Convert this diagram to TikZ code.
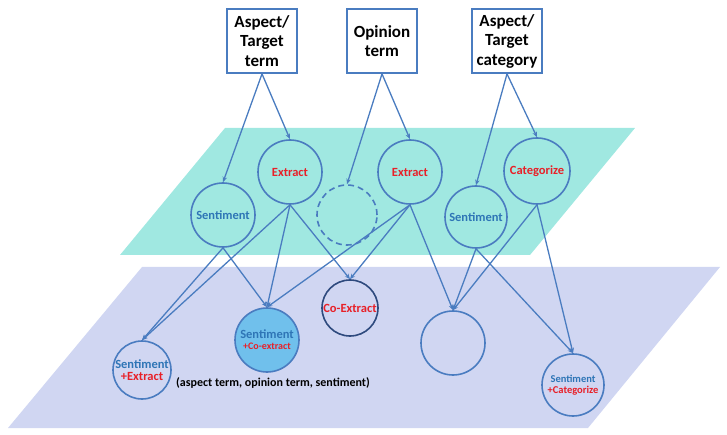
\documentclass[tikz,border=0pt]{standalone}
\usepackage{fontspec}
\setmainfont{Carlito}
\usetikzlibrary{arrows.meta}
\definecolor{teal1}{RGB}{160,232,225}
\definecolor{lav}{RGB}{208,214,242}
\definecolor{edgeblue}{RGB}{74,124,192}
\definecolor{darkblue}{RGB}{46,74,126}
\definecolor{fillblue}{RGB}{112,192,236}
\definecolor{sentblue}{RGB}{46,117,182}
\definecolor{redtxt}{RGB}{232,32,40}
\tikzset{
  topbox/.style={draw=edgeblue, line width=1.8pt, fill=white, minimum width=70pt, minimum height=64pt, inner sep=0pt, align=center, font=\bfseries\fontsize{17}{19.5}\selectfont},
  cnode/.style={circle, draw=edgeblue, line width=1.6pt, inner sep=0pt, align=center, font=\bfseries\fontsize{12.5}{13}\selectfont},
  link/.style={draw=edgeblue, line width=1.3pt, -{Stealth[length=5.5pt,width=4.5pt]}}
}
\newcommand{\sent}[1]{{\color{sentblue}#1}}
\newcommand{\redt}[1]{{\color{redtxt}#1}}
\begin{document}
\begin{tikzpicture}[x=1pt,y=-1pt]
\useasboundingbox (0,0) rectangle (727,435);
% planes
\fill[teal1] (225,128) -- (635,128) -- (530,255) -- (120,255) -- cycle;
\fill[lav] (142,267) -- (720,267) -- (588,428) -- (8,428) -- cycle;
% top boxes
\node[topbox] (b1) at (262,41) {Aspect/\\Target\\term};
\node[topbox] (b2) at (382,41) {Opinion\\term};
\node[topbox] (b3) at (507,41) {Aspect/\\Target\\category};
% upper circles
\node[cnode, minimum size=64pt] (s1) at (223,215) {\sent{Sentiment}};
\node[cnode, minimum size=64pt] (e1) at (290,172) {\redt{Extract}};
\node[cnode, minimum size=60pt, dash pattern=on 6pt off 4pt] (d1) at (347,215) {};
\node[cnode, minimum size=64pt] (e2) at (410,172) {\redt{Extract}};
\node[cnode, minimum size=62pt] (s2) at (476,217) {\sent{Sentiment}};
\node[cnode, minimum size=66pt] (c1) at (537,171) {\redt{Categorize}};
% lower circles
\node[cnode, minimum size=58pt] (se) at (142,370) {\sent{Sentiment}\\[-1pt]\redt{+Extract}};
\node[cnode, minimum size=64pt, fill=fillblue] (sc) at (267,340) {\sent{Sentiment}\\[-2pt]{\fontsize{10}{11}\selectfont\redt{+Co-extract}}};
\node[cnode, minimum size=56pt, draw=darkblue] (ce) at (350,308) {\redt{Co-Extract}};
\node[cnode, minimum size=64pt] (em) at (453,343) {};
\node[cnode, minimum size=62pt, font=\bfseries\fontsize{10.5}{11.5}\selectfont] (sg) at (573,385) {\sent{Sentiment}\\\redt{+Categorize}};
\node[anchor=west, font=\bfseries\fontsize{12}{13}\selectfont, inner sep=0pt] (tx) at (176,383) {(aspect term, opinion term, sentiment)};
% top arrows
\draw[link] (b1.south) -- (s1.north);
\draw[link] (b1.south) -- (e1.north);
\draw[link] (b2.south) -- (d1.north);
\draw[link] (b2.south) -- (e2.north);
\draw[link] (b3.south) -- (s2.north);
\draw[link] (b3.south) -- (c1.north);
% lower arrows
\draw[link] (s1.south) -- (se.north);
\draw[link] (s1.south) -- (sc.north);
\draw[link] (e1.south) -- (se.north);
\draw[link] (e1.south) -- (sc.north);
\draw[link] (e1.south) -- (ce.north);
\draw[link] (e2.south) -- (sc.north);
\draw[link] (e2.south) -- (ce.north);
\draw[link] (e2.south) -- (em.north);
\draw[link] (s2.south) -- (em.north);
\draw[link] (s2.south) -- (sg.north);
\draw[link] (c1.south) -- (em.north);
\draw[link] (c1.south) -- (sg.north);
\end{tikzpicture}
\end{document}
